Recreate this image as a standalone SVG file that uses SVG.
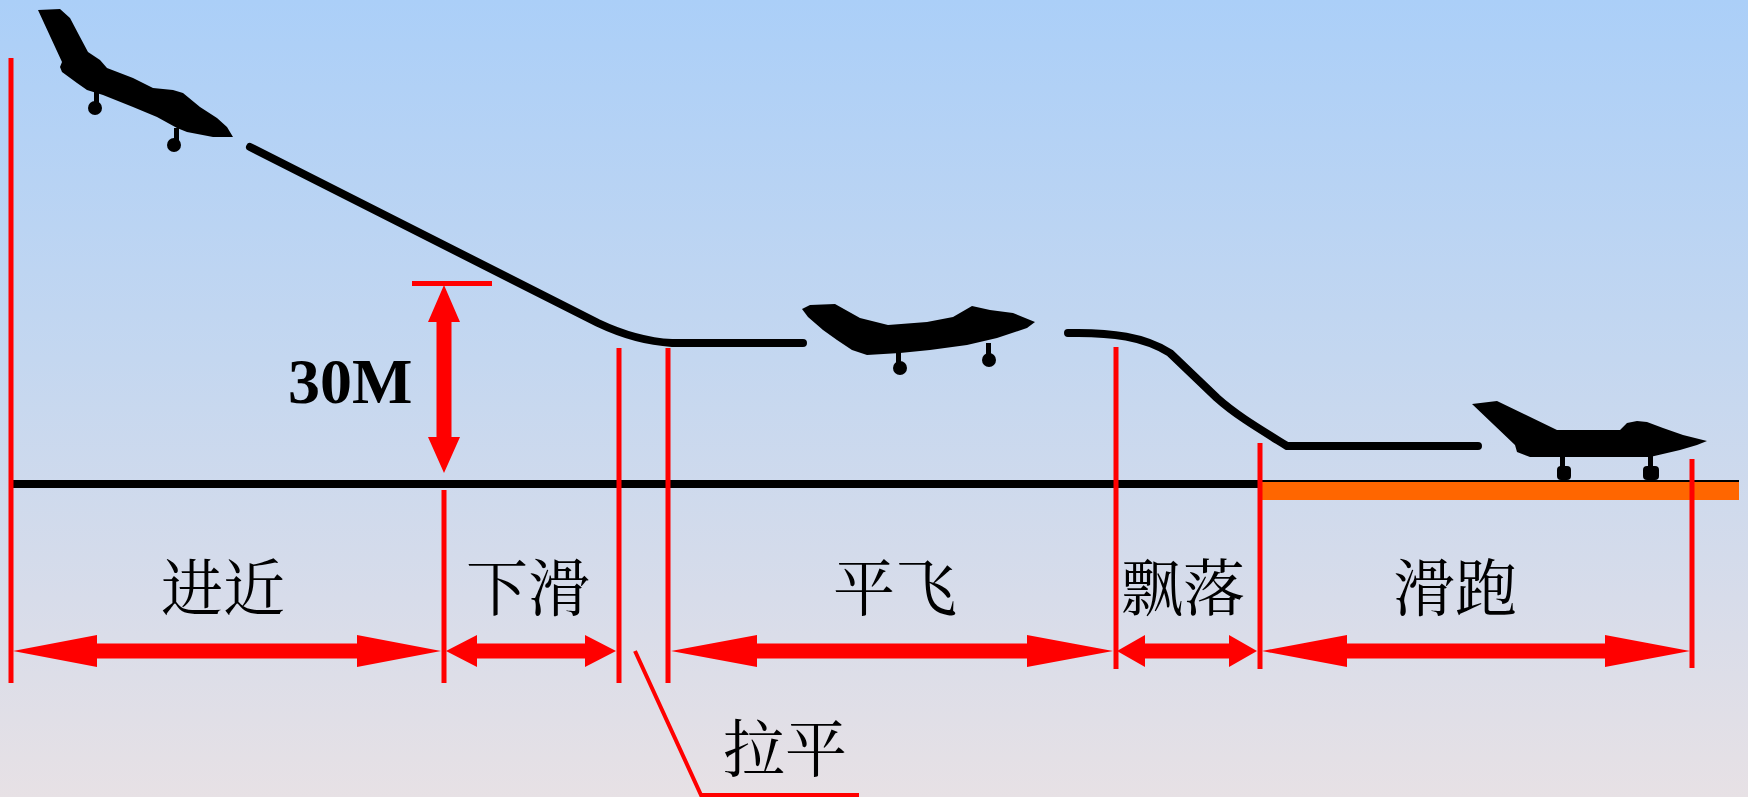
<svg xmlns="http://www.w3.org/2000/svg" width="1748" height="797" viewBox="0 0 1748 797">
  <defs>
    <linearGradient id="sky" x1="0" y1="0" x2="0" y2="1">
      <stop offset="0" stop-color="#abcff8"/>
      <stop offset="0.45" stop-color="#c4d7f0"/>
      <stop offset="0.75" stop-color="#d7dcea"/>
      <stop offset="1" stop-color="#e7e1e5"/>
    </linearGradient>
    <style>
      .sep { stroke: #ff0000; stroke-width: 5; fill: none; }
      .dim { fill: #ff0000; }
      .path { stroke: #000; stroke-width: 8; fill: none; stroke-linejoin: round; stroke-linecap: round; }
      .jet { fill: #000; }
      .lbl { font-family: "Noto Serif CJK SC", "Noto Sans CJK SC", serif; font-size: 62px; fill: #000; text-anchor: middle; }
      .num { font-family: "Liberation Serif", serif; font-weight: bold; font-size: 64px; fill: #000; }
    </style>
  </defs>

  <rect width="1748" height="797" fill="url(#sky)"/>

  <!-- ground and runway -->
  <g id="ground">
    <rect x="9" y="480" width="1730" height="8" fill="#000"/>
    <rect x="1260" y="482" width="479" height="18" fill="#ff6600"/>
  </g>

  <!-- glide path -->
  <g id="flight-path">
    <path class="path" d="M250,147 L598,323 Q636,341 672,343 L803,343"/>
    <path class="path" d="M1068,333 C1112,332 1145,337 1170,353 L1217,398 C1236,415 1258,428 1287,446 L1478,446"/>
  </g>

  <!-- aircraft on approach -->
  <g id="jet-approach" class="jet">
    <polygon points="38,10 60,9 70,18 80,37 88,52 100,60 107,68 133,78 153,88 173,90 183,93 200,107 217,118 227,127 233,137 213,137 187,132 177,128 157,117 133,107 103,95 87,90 77,83 62,72 60,67 62,62"/>
    <rect x="94" y="90" width="5" height="13"/>
    <circle cx="95" cy="108" r="7"/>
    <rect x="174" y="128" width="5" height="13"/>
    <circle cx="174" cy="145" r="7"/>
  </g>

  <!-- aircraft in level flight -->
  <g id="jet-level" class="jet">
    <polygon points="802,309 810,305 835,304 860,318 888,325 927,322 953,317 972,306 990,310 1013,313 1035,322 1027,328 997,338 967,345 930,350 900,353 867,355 852,350 837,340 823,330 808,317"/>
    <rect x="896" y="350" width="5" height="13"/>
    <circle cx="900" cy="368" r="7"/>
    <rect x="986" y="343" width="5" height="12"/>
    <circle cx="989" cy="360" r="7"/>
  </g>

  <!-- aircraft on the runway -->
  <g id="jet-rollout" class="jet">
    <polygon points="1472,404 1497,401 1557,430 1620,430 1627,423 1637,421 1647,422 1663,428 1683,435 1707,441 1697,445 1680,450 1650,457 1530,457 1517,452 1515,445"/>
    <rect x="1560" y="455" width="5" height="13"/>
    <rect x="1557" y="466" width="14" height="14" rx="4"/>
    <rect x="1648" y="455" width="5" height="13"/>
    <rect x="1643" y="466" width="16" height="14" rx="4"/>
  </g>

  <!-- phase boundaries -->
  <g id="boundaries">
    <line class="sep" x1="11" y1="58" x2="11" y2="683"/>
    <line class="sep" x1="444" y1="490" x2="444" y2="683"/>
    <line class="sep" x1="619" y1="348" x2="619" y2="683"/>
    <line class="sep" x1="668" y1="348" x2="668" y2="683"/>
    <line class="sep" x1="1116" y1="347" x2="1116" y2="669"/>
    <line class="sep" x1="1260" y1="443" x2="1260" y2="669"/>
    <line class="sep" x1="1692" y1="459" x2="1692" y2="668"/>
  </g>

  <!-- 30 m height marker -->
  <g id="height-30m">
    <rect class="dim" x="412" y="281" width="80" height="5"/>
    <polygon class="dim" points="444,285 460,322 451.5,322 451.5,437 460,437 444,473 428,437 436.5,437 436.5,322 428,322"/>
    <text class="num" x="288" y="403">30M</text>
  </g>

  <!-- phase span arrows -->
  <g id="spans">
    <polygon class="dim" points="13,651 97,635 97,643.5 357,643.5 357,635 441,651 357,667 357,658.5 97,658.5 97,667"/>
    <polygon class="dim" points="446,651 477,635 477,643.5 585,643.5 585,635 616,651 585,667 585,658.5 477,658.5 477,667"/>
    <polygon class="dim" points="671,651 757,635 757,643.5 1027,643.5 1027,635 1113,651 1027,667 1027,658.5 757,658.5 757,667"/>
    <polygon class="dim" points="1117,651 1145,635 1145,643.5 1229,643.5 1229,635 1257,651 1229,667 1229,658.5 1145,658.5 1145,667"/>
    <polygon class="dim" points="1262,651 1347,635 1347,643.5 1605,643.5 1605,635 1690,651 1605,667 1605,658.5 1347,658.5 1347,667"/>
  </g>

  <!-- phase names -->
  <g id="label-approach"><text class="lbl" x="223" y="611">进近</text></g>
  <g id="label-glide"><text class="lbl" x="528" y="611">下滑</text></g>
  <g id="label-level"><text class="lbl" x="895" y="611">平飞</text></g>
  <g id="label-float"><text class="lbl" x="1183" y="611">飘落</text></g>
  <g id="label-roll"><text class="lbl" x="1455" y="611">滑跑</text></g>

  <!-- flare callout -->
  <g id="label-flare">
    <polyline points="635,651 701,795 859,795" fill="none" stroke="#ff0000" stroke-width="4"/>
    <text class="lbl" x="785" y="772">拉平</text>
  </g>
</svg>
